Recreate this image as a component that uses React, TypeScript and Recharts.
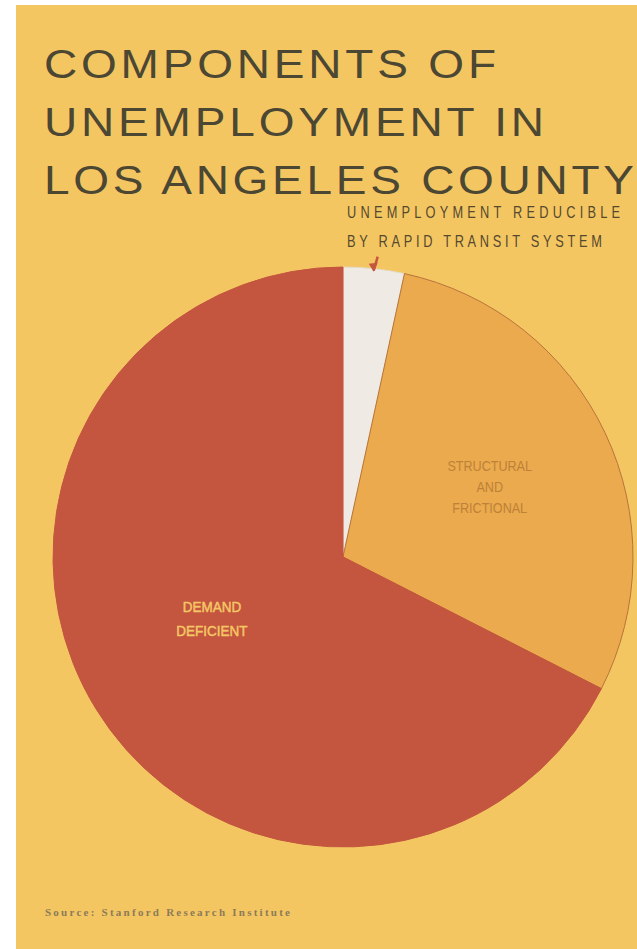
import React from 'react';
import { PieChart, Pie, Cell } from 'recharts';

// Shares of unemployment (percent)
const components = ['Reducible by rapid transit', 'Structural and frictional', 'Demand deficient'];
const shares = [3.4, 29.1, 67.5];
const sliceColors = ['#EFEBE4', '#EBAA4D', '#C4553F'];
const sliceStrokes = ['#E6D9C6', '#B8743A', '#C4553F'];

const titleLines = ['COMPONENTS OF', 'UNEMPLOYMENT IN', 'LOS ANGELES COUNTY'];
const titleWidths = [452, 500, 590];
const noteLines = ['UNEMPLOYMENT REDUCIBLE', 'BY RAPID TRANSIT SYSTEM'];
const noteWidths = [273, 255];
const sourceText = 'Source: Stanford Research Institute';

const W = 637;
const H = 949;
const RADIAN = Math.PI / 180;
const TITLE_SX = 1.15;
const NOTE_SX = 0.8;

const chartData = components.map((name, i) => ({ name, value: shares[i] }));

const renderLabel = (props: any) => {
  const { cx, cy, midAngle, outerRadius, index } = props;
  const cos = Math.cos(-midAngle * RADIAN);
  const sin = Math.sin(-midAngle * RADIAN);

  if (index === 0) {
    // small red arrow pointing at the thin slice
    const tx = cx + (outerRadius - 2) * cos;
    const ty = cy + (outerRadius - 2) * sin;
    return (
      <g>
        <path d={`M${tx + 4},${ty - 14} L${tx},${ty}`} stroke="#C4553F" strokeWidth={2.5} />
        <path d={`M${tx - 5},${ty - 7} L${tx},${ty + 1} L${tx + 4},${ty - 8} Z`} fill="#C4553F" />
      </g>
    );
  }

  if (index === 1) {
    const r = outerRadius * 0.56;
    const x = cx + r * cos;
    const y = cy + r * sin;
    const lines = ['STRUCTURAL', 'AND', 'FRICTIONAL'];
    return (
      <text
        x={x}
        y={y - 22}
        textAnchor="middle"
        fill="#BD8237"
        fontFamily="'Liberation Sans', sans-serif"
        fontSize={14}
        transform={`translate(${x},0) scale(0.9,1) translate(${-x},0)`}
      >
        {lines.map((l, i) => (
          <tspan key={l} x={x} dy={i === 0 ? 6 : 21}>
            {l}
          </tspan>
        ))}
      </text>
    );
  }

  const r = outerRadius * 0.53;
  const x = cx + r * cos;
  const y = cy + r * sin;
  const lines = ['DEMAND', 'DEFICIENT'];
  return (
    <text
      x={x}
      y={y - 31}
      textAnchor="middle"
      fill="#F4C765"
      stroke="#F4C765"
      strokeWidth={0.5}
      fontFamily="'Liberation Sans', sans-serif"
      fontSize={15}
      transform={`translate(${x},0) scale(0.9,1) translate(${-x},0)`}
    >
      {lines.map((l, i) => (
        <tspan key={l} x={x} dy={i === 0 ? 6 : 24}>
          {l}
        </tspan>
      ))}
    </text>
  );
};

export default function App() {
  return (
    <div
      style={{
        position: 'fixed',
        left: 0,
        top: 0,
        width: W,
        height: H,
        background: '#ffffff',
        overflow: 'hidden',
      }}
    >
      <div
        style={{
          position: 'absolute',
          left: 16,
          top: 5,
          width: W - 16,
          height: H - 5,
          background: '#F4C662',
        }}
      />
      <div style={{ position: 'absolute', left: 0, top: 0 }}>
        <PieChart width={W} height={H} margin={{ top: 0, right: 0, bottom: 0, left: 0 }}>
          <Pie
            data={chartData}
            dataKey="value"
            nameKey="name"
            cx={343}
            cy={557}
            outerRadius={290}
            startAngle={90}
            endAngle={-270}
            label={renderLabel}
            labelLine={false}
            isAnimationActive={false}
          >
            {chartData.map((d, i) => (
              <Cell key={d.name} fill={sliceColors[i]} stroke={sliceStrokes[i]} strokeWidth={1} />
            ))}
          </Pie>
        </PieChart>
      </div>
      <svg width={W} height={H} style={{ position: 'absolute', left: 0, top: 0, pointerEvents: 'none' }}>
        {titleLines.map((t, i) => (
          <text
            key={t}
            x={44 / TITLE_SX}
            y={78 + i * 58}
            fill="#4B4732"
            fontFamily="'Liberation Sans', Arial, sans-serif"
            fontSize={40}
            transform={`scale(${TITLE_SX},1)`}
            textLength={titleWidths[i] / TITLE_SX}
            lengthAdjust="spacing"
          >
            {t}
          </text>
        ))}
        {noteLines.map((t, i) => (
          <text
            key={t}
            x={347 / NOTE_SX}
            y={218 + i * 29}
            fill="#54492F"
            fontFamily="'Liberation Sans', sans-serif"
            fontSize={16}
            transform={`scale(${NOTE_SX},1)`}
            textLength={noteWidths[i] / NOTE_SX}
            lengthAdjust="spacing"
          >
            {t}
          </text>
        ))}
        <text
          x={45}
          y={916}
          fill="#8C7B58"
          fontFamily="'Liberation Serif', serif"
          fontSize={11}
          fontWeight="bold"
          textLength={245}
          lengthAdjust="spacing"
        >
          {sourceText}
        </text>
      </svg>
    </div>
  );
}
